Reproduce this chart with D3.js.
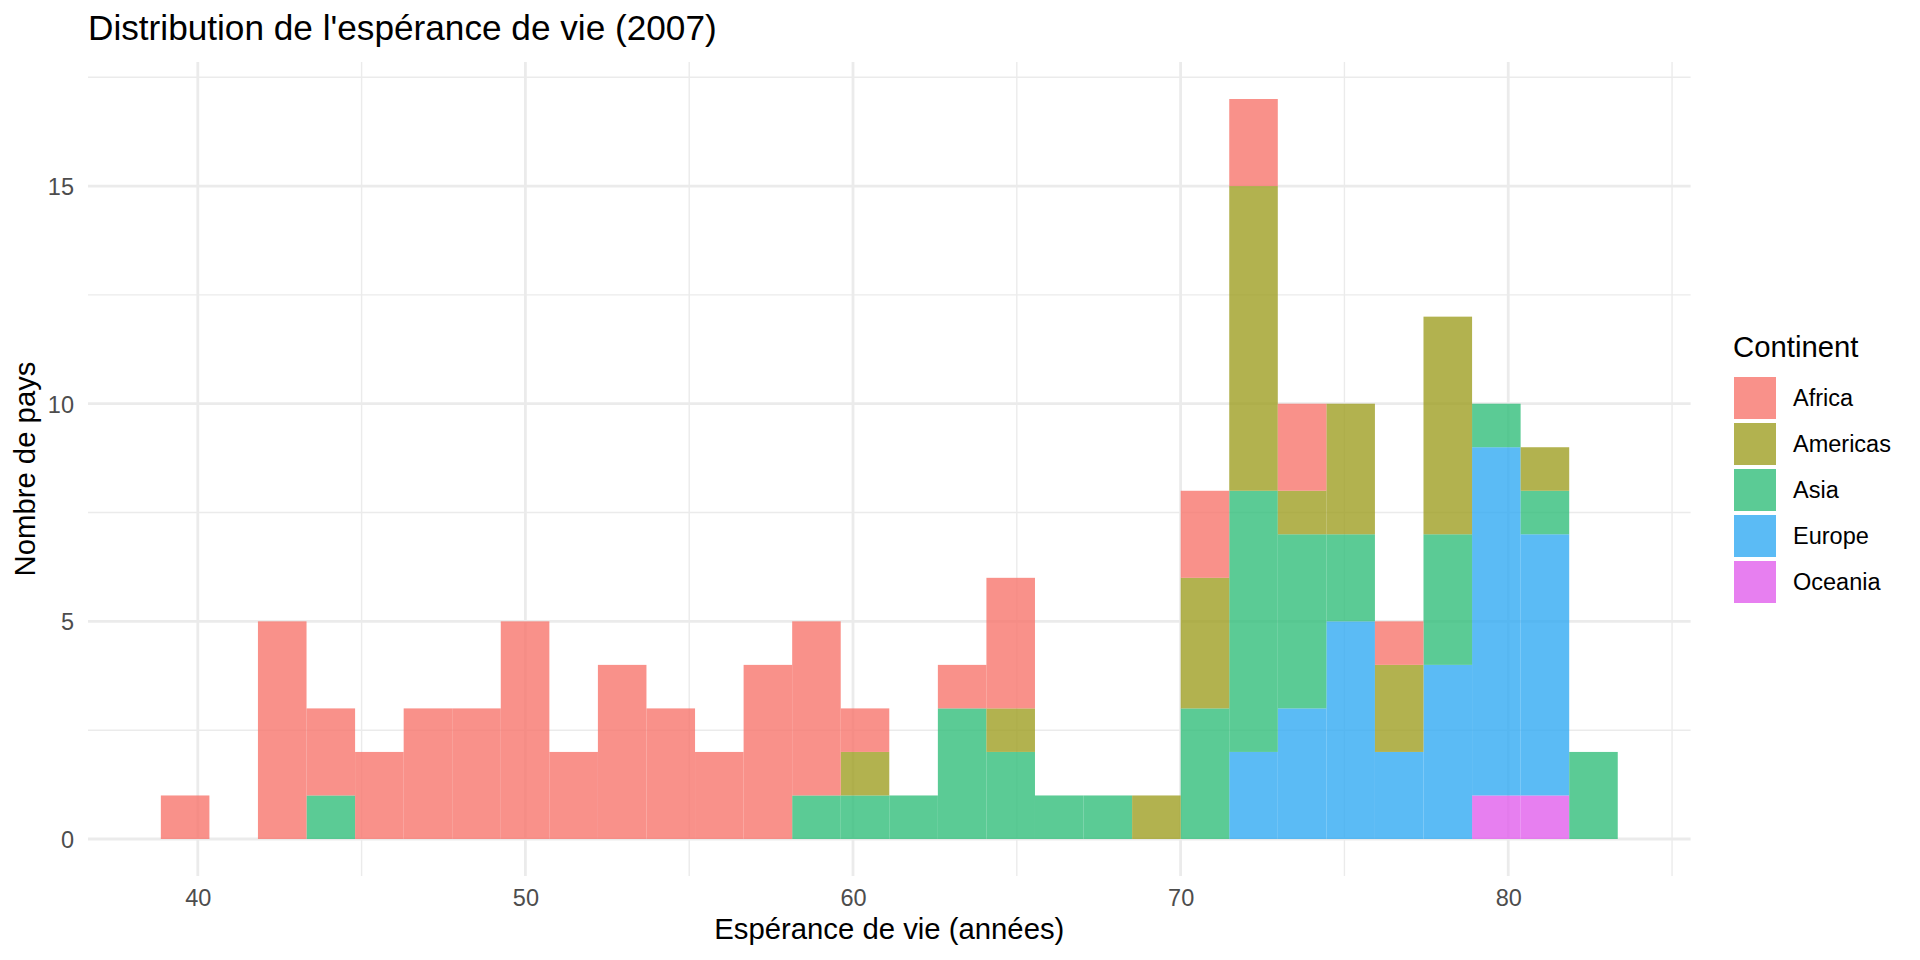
<!DOCTYPE html>
<html>
<head>
<meta charset="utf-8">
<script src="https://cdn.jsdelivr.net/npm/d3@7"></script>
<style>
  html, body { margin: 0; padding: 0; background: #ffffff; }
  svg { display: block; }
  text { font-family: "Liberation Sans", Arial, Helvetica, sans-serif; }
</style>
</head>
<body>
<svg id="chart" width="1920" height="960"></svg>
<script>
// ---- Data ----
const binEdges = [38.872, 40.354, 41.836, 43.319, 44.801, 46.284, 47.766, 49.248, 50.731, 52.213,
  53.695, 55.178, 56.660, 58.143, 59.625, 61.107, 62.590, 64.072, 65.554, 67.037,
  68.519, 70.002, 71.484, 72.966, 74.449, 75.931, 77.413, 78.896, 80.378, 81.861, 83.343];
const continents = ["Africa", "Americas", "Asia", "Europe", "Oceania"];
const africa   = [1,0,5,2,2,3,3,5,2,4,3,2,4,4,1,0,1,3,0,0,0,2,2,2,0,1,0,0,0,0];
const americas = [0,0,0,0,0,0,0,0,0,0,0,0,0,0,1,0,0,1,0,0,1,3,7,1,3,2,5,0,1,0];
const asia     = [0,0,0,1,0,0,0,0,0,0,0,0,0,1,1,1,3,2,1,1,0,3,6,4,2,0,3,1,1,2];
const europe   = [0,0,0,0,0,0,0,0,0,0,0,0,0,0,0,0,0,0,0,0,0,0,2,3,5,2,4,8,6,0];
const oceania  = [0,0,0,0,0,0,0,0,0,0,0,0,0,0,0,0,0,0,0,0,0,0,0,0,0,0,0,1,1,0];
const colors = ["#F8766D", "#9F9F23", "#32BE7A", "#32AAF2", "#E15FEC"];
const xMajor = [40, 50, 60, 70, 80];
const xMinor = [45, 55, 65, 75, 85];
const yMajor = [0, 5, 10, 15];
const yMinor = [2.5, 7.5, 12.5, 17.5];
const titleText = "Distribution de l'espérance de vie (2007)";
const xTitle = "Espérance de vie (années)";
const yTitle = "Nombre de pays";
const legendTitle = "Continent";

// ---- Build table ----
const series = { Africa: africa, Americas: americas, Asia: asia, Europe: europe, Oceania: oceania };
const table = binEdges.slice(0, -1).map((x0, i) => {
  const row = { x0: x0, x1: binEdges[i + 1] };
  continents.forEach(c => row[c] = series[c][i]);
  return row;
});
// ggplot stacks first factor level on top -> bottom order is reversed
const stackKeys = continents.slice().reverse();
const stacked = d3.stack().keys(stackKeys)(table);
const color = d3.scaleOrdinal().domain(continents).range(colors);

// ---- Scales ----
const panel = { left: 88, right: 1690.6, top: 62, bottom: 876 };
const xlo = binEdges[0], xhi = binEdges[binEdges.length - 1];
const xpad = (xhi - xlo) * 0.05;
const maxTotal = d3.max(table, d => continents.reduce((s, c) => s + d[c], 0));
const ypad = maxTotal * 0.05;
const x = d3.scaleLinear().domain([xlo - xpad, xhi + xpad]).range([panel.left, panel.right]);
const y = d3.scaleLinear().domain([-ypad, maxTotal + ypad]).range([panel.bottom, panel.top]);

const svg = d3.select("#chart");
const gridColor = "#EBEBEB";

// ---- Grid ----
const grid = svg.append("g");
grid.selectAll(".ymin").data(yMinor).join("line")
  .attr("x1", panel.left).attr("x2", panel.right)
  .attr("y1", d => y(d)).attr("y2", d => y(d))
  .attr("stroke", gridColor).attr("stroke-width", 1.4);
grid.selectAll(".xmin").data(xMinor).join("line")
  .attr("y1", panel.top).attr("y2", panel.bottom)
  .attr("x1", d => x(d)).attr("x2", d => x(d))
  .attr("stroke", gridColor).attr("stroke-width", 1.4);
grid.selectAll(".ymaj").data(yMajor).join("line")
  .attr("x1", panel.left).attr("x2", panel.right)
  .attr("y1", d => y(d)).attr("y2", d => y(d))
  .attr("stroke", gridColor).attr("stroke-width", 2.8);
grid.selectAll(".xmaj").data(xMajor).join("line")
  .attr("y1", panel.top).attr("y2", panel.bottom)
  .attr("x1", d => x(d)).attr("x2", d => x(d))
  .attr("stroke", gridColor).attr("stroke-width", 2.8);

// ---- Bars ----
const bars = svg.append("g");
stacked.forEach(layer => {
  bars.append("g")
    .attr("fill", color(layer.key))
    .attr("fill-opacity", 0.8)
    .selectAll("rect")
    .data(layer.filter(d => d[1] > d[0]))
    .join("rect")
    .attr("x", d => x(d.data.x0))
    .attr("width", d => x(d.data.x1) - x(d.data.x0))
    .attr("y", d => y(d[1]))
    .attr("height", d => y(d[0]) - y(d[1]));
});

// ---- Axes (ggplot-like, no axis lines/ticks) ----
const tickColor = "#4D4D4D";
const xAxis = svg.append("g")
  .attr("transform", `translate(0,${panel.bottom + 5.9})`)
  .call(d3.axisBottom(x).tickValues(xMajor).tickSize(0).tickPadding(0).tickFormat(d3.format("d")));
xAxis.select(".domain").remove();
xAxis.selectAll("text")
  .attr("dy", null).attr("y", 24.5)
  .attr("fill", tickColor).style("font-size", "23.5px");

const yAxis = svg.append("g")
  .attr("transform", `translate(${panel.left - 14},0)`)
  .call(d3.axisLeft(y).tickValues(yMajor).tickSize(0).tickPadding(0).tickFormat(d3.format("d")));
yAxis.select(".domain").remove();
yAxis.selectAll("text")
  .attr("dy", "0.36em").attr("x", 0)
  .attr("fill", tickColor).style("font-size", "23.5px");

// ---- Titles ----
svg.append("text")
  .attr("x", panel.left).attr("y", 40)
  .attr("fill", "#000").style("font-size", "35.2px")
  .text(titleText);

svg.append("text")
  .attr("x", (panel.left + panel.right) / 2).attr("y", 939)
  .attr("text-anchor", "middle")
  .attr("fill", "#000").style("font-size", "29.3px")
  .text(xTitle);

svg.append("text")
  .attr("transform", `translate(35,${(panel.top + panel.bottom) / 2}) rotate(-90)`)
  .attr("text-anchor", "middle")
  .attr("fill", "#000").style("font-size", "29.3px")
  .text(yTitle);

// ---- Legend ----
const legend = svg.append("g").attr("transform", "translate(1733,0)");
legend.append("text")
  .attr("x", 0).attr("y", 357)
  .attr("fill", "#000").style("font-size", "29.3px")
  .text(legendTitle);
const items = legend.selectAll(".item").data(continents).join("g")
  .attr("transform", (d, i) => `translate(1,${377 + i * 46})`);
items.append("rect")
  .attr("width", 42).attr("height", 42)
  .attr("fill", d => color(d)).attr("fill-opacity", 0.8);
items.append("text")
  .attr("x", 59).attr("y", 21).attr("dy", "0.36em")
  .attr("fill", "#000").style("font-size", "23.5px")
  .text(d => d);
</script>
</body>
</html>
